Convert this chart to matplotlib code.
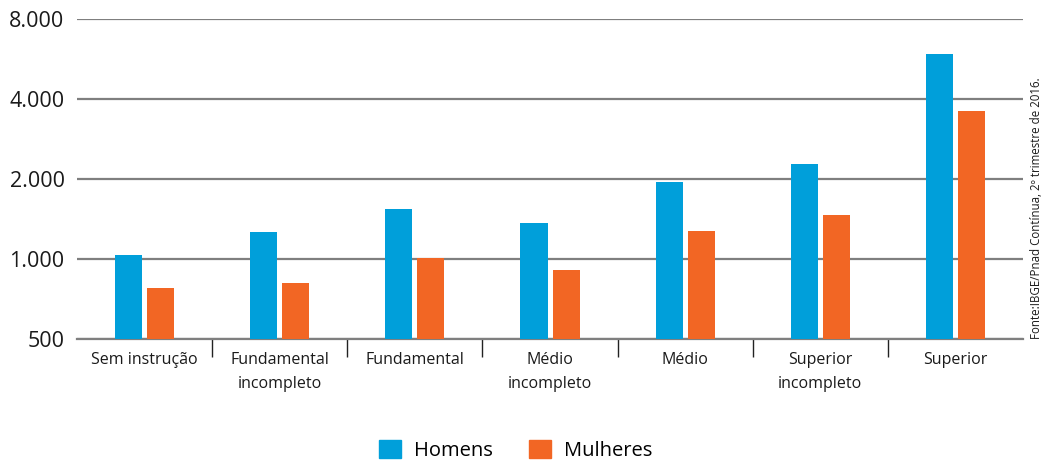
import numpy as np
import matplotlib.pyplot as plt
from matplotlib.patches import Patch
from matplotlib.ticker import FixedLocator, FixedFormatter, NullFormatter

plt.rcParams['font.family'] = ['Open Sans', 'DejaVu Sans']

# rendimento médio por nível de instrução (R$)
categorias = ['Sem instrução', 'Fundamental\nincompleto', 'Fundamental',
              'Médio\nincompleto', 'Médio', 'Superior\nincompleto', 'Superior']
homens = [1039, 1260, 1538, 1362, 1944, 2278, 5893]
mulheres = [776, 815, 1006, 907, 1271, 1460, 3596]
yticks = [500, 1000, 2000, 4000, 8000]
ytick_labels = ['500', '1.000', '2.000', '4.000', '8.000']

azul = '#009fda'
laranja = '#f26624'
cinza = '#7f7f7f'

fig = plt.figure(figsize=(10.42, 4.61), dpi=100)
ax = fig.add_axes([0.0739, 0.2646, 0.9079, 0.6942])

x = np.arange(len(categorias))
larg = 0.2
desl = 0.1185
ax.bar(x - desl, homens, larg, color=azul, zorder=3)
ax.bar(x + desl, mulheres, larg, color=laranja, zorder=3)

ax.set_yscale('log', base=2)
ax.set_ylim(500, 8000)
ax.yaxis.set_major_locator(FixedLocator(yticks))
ax.yaxis.set_major_formatter(FixedFormatter(ytick_labels))
ax.yaxis.set_minor_formatter(NullFormatter())
ax.yaxis.set_minor_locator(FixedLocator([]))
ax.grid(axis='y', color=cinza, linewidth=1.6, zorder=1)
ax.tick_params(axis='y', length=0, pad=9, labelsize=15.5, labelcolor='#1a1a1a')

ax.set_xlim(-0.5, len(categorias) - 0.5)
ax.set_xticks(x)
ax.set_xticklabels(categorias, fontsize=11.5, color='#1a1a1a', linespacing=1.7)
ax.set_xticks(x[:-1] + 0.5, minor=True)
ax.tick_params(axis='x', which='major', length=0, pad=9)
ax.tick_params(axis='x', which='minor', length=13, width=1, color='#222222')

for s in ['top', 'right', 'left']:
    ax.spines[s].set_visible(False)
ax.spines['bottom'].set_color(cinza)
ax.spines['bottom'].set_linewidth(1.6)

fig.text(1036 / 1042, 122 / 461, 'Fonte:IBGE/Pnad Contínua, 2º trimestre de 2016.',
         rotation=90, ha='center', va='bottom', fontsize=8.3, color='#1a1a1a')

handles = [Patch(color=azul, label='Homens'), Patch(color=laranja, label='Mulheres')]
fig.legend(handles=handles, loc='lower center', bbox_to_anchor=(515.5 / 1042, 0),
           ncol=2, frameon=False, fontsize=14.5, handlelength=1.1, handleheight=1.0,
           handletextpad=0.65, columnspacing=1.8, borderpad=0, borderaxespad=0)

fig.savefig('out.png', dpi=100)
